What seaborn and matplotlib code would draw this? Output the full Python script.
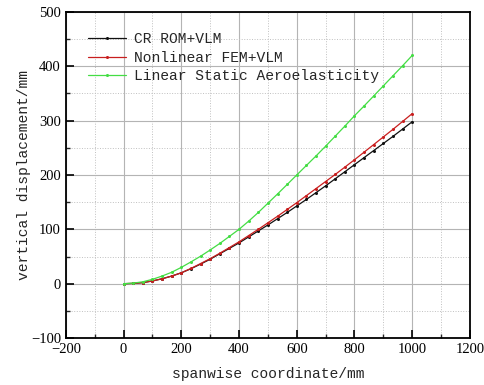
import numpy as np
import pandas as pd
import matplotlib
matplotlib.use('Agg')
import matplotlib.pyplot as plt
import seaborn as sns
from matplotlib.ticker import MultipleLocator

# spanwise stations (mm)
span = [0, 33.3, 66.7, 100, 133.3, 166.7, 200, 233.3, 266.7, 300, 333.3,
        366.7, 400, 433.3, 466.7, 500, 533.3, 566.7, 600, 633.3, 666.7,
        700, 733.3, 766.7, 800, 833.3, 866.7, 900, 933.3, 966.7, 1000]

cr_rom = [0, 0.5, 2, 5, 9, 14, 20, 27.5, 36, 45, 55, 65, 75, 86, 97, 108,
          119.5, 131, 143, 155, 167.5, 180, 193, 206, 219, 232, 245, 258,
          271, 284.5, 298]
nonlin_fem = [0, 0.5, 2, 5, 9, 14, 20, 28, 37, 46, 56, 66.5, 77, 88.5, 100,
              112, 124, 136.5, 149, 162, 175, 188, 201, 214.5, 228, 242, 256,
              270, 284, 298.5, 313]
linear_static = [0, 1, 3.5, 8, 14, 21, 30, 40, 50.5, 62, 74, 87, 100, 115,
                 131, 148, 165, 182.5, 200, 217.5, 235, 253, 271.5, 290, 309,
                 327, 345.5, 364, 382.5, 401, 420]

labels = ['CR ROM+VLM', 'Nonlinear FEM+VLM', 'Linear Static Aeroelasticity']
colors = ['#111111', '#c81e1e', '#44dd44']

df = pd.DataFrame({'x': span * 3,
                   'y': cr_rom + nonlin_fem + linear_static,
                   'case': sum([[l] * len(span) for l in labels], [])})

sns.set_style('white')
plt.rcParams['font.family'] = ['Liberation Serif', 'DejaVu Serif']

fig = plt.figure(figsize=(4.84, 3.85), dpi=100)
ax = fig.add_axes([0.136, 0.122, 0.835, 0.847])

sns.lineplot(data=df, x='x', y='y', hue='case', hue_order=labels,
             palette=colors, marker='o', markersize=2.2, markeredgewidth=0,
             linewidth=0.9, ax=ax)

ax.set_xlim(-200, 1200)
ax.set_ylim(-100, 500)
ax.xaxis.set_major_locator(MultipleLocator(200))
ax.xaxis.set_minor_locator(MultipleLocator(100))
ax.yaxis.set_major_locator(MultipleLocator(100))
ax.yaxis.set_minor_locator(MultipleLocator(50))
ax.grid(True, which='major', color='#b4b4b4', linewidth=0.8, linestyle='-')
ax.grid(True, which='minor', color='#c0c0c0', linewidth=0.7, linestyle=':')
ax.set_axisbelow(True)
ax.tick_params(which='major', direction='in', length=6, width=1.2,
               labelsize=10.5, colors='black', bottom=True, left=True)
ax.tick_params(which='minor', direction='in', length=3, width=1.0,
               bottom=True, left=True)
for s in ax.spines.values():
    s.set_color('black')
    s.set_linewidth(1.3)

mono = 'Liberation Mono'
ax.set_xlabel('spanwise coordinate/mm', fontfamily=mono, fontsize=10.5,
              labelpad=8)
ax.set_ylabel('vertical displacement/mm', fontfamily=mono, fontsize=10.5,
              labelpad=0)

ax.legend(loc='upper left', frameon=False, prop={'family': mono, 'size': 10.5},
          handlelength=2.6, handletextpad=0.6, labelspacing=0.3,
          bbox_to_anchor=(0.04, 0.955), borderaxespad=0)

fig.savefig('out.png', dpi=100)
